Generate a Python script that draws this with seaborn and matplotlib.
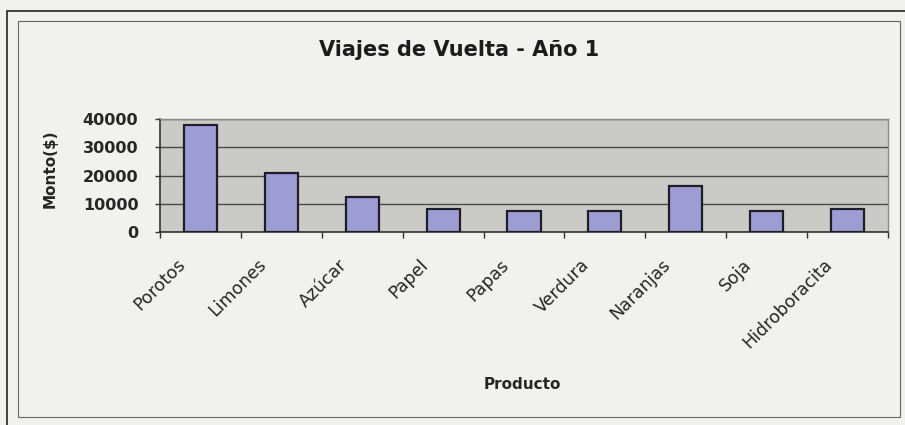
import numpy as np
import pandas as pd
import matplotlib
matplotlib.use("Agg")
import matplotlib.pyplot as plt
import seaborn as sns
from matplotlib.patches import Rectangle
from matplotlib.ticker import FixedLocator

# datos
productos = ["Porotos", "Limones", "Azúcar", "Papel", "Papas",
             "Verdura", "Naranjas", "Soja", "Hidroboracita"]
montos = [38000, 21000, 12300, 8100, 7400, 7400, 16400, 7400, 8100]
y_ticks = [0, 10000, 20000, 30000, 40000]

df = pd.DataFrame({"Producto": productos, "Monto": montos})

sns.set_style("white")
plt.rcParams["font.family"] = ["DejaVu Sans"]

txt_color = "#262626"
fig = plt.figure(figsize=(9.05, 4.25), dpi=100, facecolor="#f1f1ef")
ax = fig.add_axes([160 / 905, 1 - 232 / 425, 728 / 905, 113 / 425])
ax.set_facecolor("#cacac6")

sns.barplot(data=df, x="Producto", y="Monto", ax=ax, color="#9d9dd3",
            saturation=1, width=0.41, edgecolor="#1e1e28", linewidth=1.6,
            zorder=3)

ax.set_ylim(0, 40000)
ax.set_xlim(-0.5, len(productos) - 0.5)
ax.yaxis.set_major_locator(FixedLocator(y_ticks))
ax.set_yticklabels([str(v) for v in y_ticks], fontsize=11.5,
                   fontweight="bold", color=txt_color)
ax.yaxis.grid(True, color="#4a4a4a", linewidth=1.0, zorder=1)
ax.set_axisbelow(True)

# etiquetas un poco a la izquierda del centro de cada barra (marcas invisibles)
ax.set_xticks(np.arange(len(productos)) - 0.3)
ax.set_xticklabels(productos, rotation=45, ha="right", rotation_mode="anchor",
                   fontsize=12.5, color=txt_color)
ax.xaxis.set_minor_locator(FixedLocator(np.arange(-0.5, len(productos), 1)))
ax.tick_params(axis="x", which="major", length=0, pad=17)
ax.tick_params(axis="x", which="minor", length=4, width=1, color="#333333",
               direction="out", bottom=True)
ax.tick_params(axis="y", length=3.6, width=1, color="#333333",
               direction="out", left=True, pad=12)

for side in ["top", "right"]:
    ax.spines[side].set_color("#8a8a8a")
    ax.spines[side].set_linewidth(1)
for side in ["left", "bottom"]:
    ax.spines[side].set_color("#333333")
    ax.spines[side].set_linewidth(1.2)

ax.set_xlabel("Producto", fontsize=11, fontweight="bold", color=txt_color)
ax.xaxis.set_label_coords(0.497, -1.283)
ax.set_ylabel("Monto($)", fontsize=11, fontweight="bold", color=txt_color)
ax.yaxis.set_label_coords(-0.140, 0.557)

fig.text(459 / 905, 1 - 50 / 425, "Viajes de Vuelta - Año 1", ha="center",
         va="center", fontsize=15, fontweight="bold", color="#1c1c1c")

# marco del grafico
fig.patches.append(Rectangle((7 / 905, -10 / 425), 910 / 905, 424 / 425,
                             transform=fig.transFigure, fill=False,
                             edgecolor="#333333", linewidth=1.3))
fig.patches.append(Rectangle((18 / 905, 8 / 425), 882 / 905, 396 / 425,
                             transform=fig.transFigure, fill=False,
                             edgecolor="#666666", linewidth=0.8))

fig.savefig("out.png", dpi=100, facecolor=fig.get_facecolor())
